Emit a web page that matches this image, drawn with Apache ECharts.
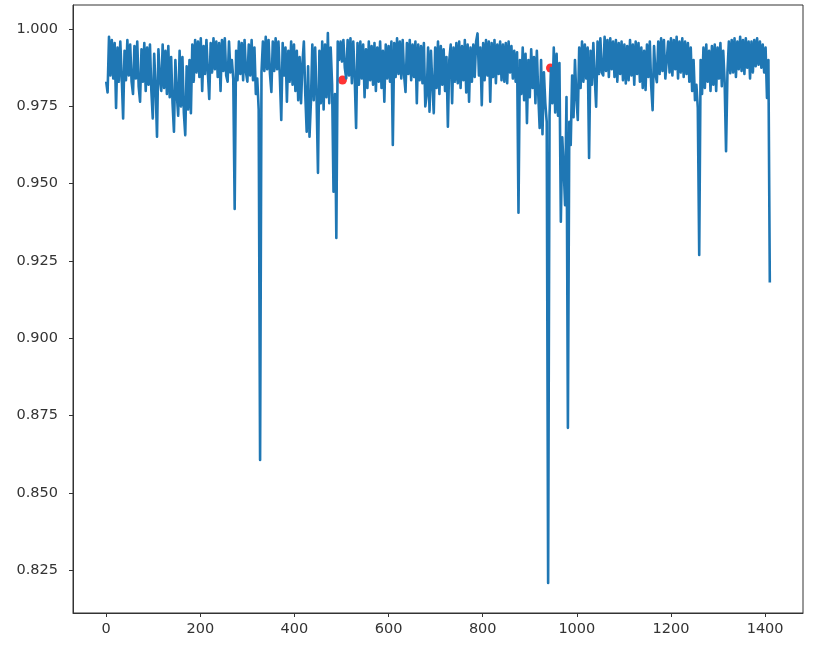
<!DOCTYPE html>
<html>
<head>
<meta charset="utf-8">
<script src="https://cdn.jsdelivr.net/npm/echarts@6/dist/echarts.min.js"></script>
<style>
html,body{margin:0;padding:0;background:#fff;}
#chart{width:830px;height:658px;}
</style>
</head>
<body>
<div id="chart"></div>
<script>
// sample spacing of the series along the x index
const STEP = 3;
// series values, x = 0, 3, 6, ... 1410
const seriesValues = [
0.9830,0.9795,0.9975,0.9850,0.9965,0.9840,0.9955,0.9745,0.9940,0.9830,
0.9960,0.9845,0.9711,0.9930,0.9835,0.9965,0.9850,0.9950,0.9830,0.9790,
0.9945,0.9840,0.9960,0.9815,0.9765,0.9935,0.9830,0.9955,0.9800,0.9940,
0.9820,0.9950,0.9800,0.9711,0.9920,0.9810,0.9652,0.9935,0.9840,0.9800,
0.9950,0.9810,0.9930,0.9790,0.9945,0.9780,0.9910,0.9760,0.9668,0.9900,
0.9790,0.9720,0.9930,0.9750,0.9910,0.9730,0.9657,0.9880,0.9740,0.9900,
0.9728,0.9950,0.9830,0.9965,0.9860,0.9960,0.9845,0.9970,0.9800,0.9945,
0.9855,0.9965,0.9860,0.9774,0.9955,0.9860,0.9970,0.9870,0.9960,0.9845,
0.9955,0.9800,0.9965,0.9865,0.9970,0.9850,0.9830,0.9960,0.9860,0.9900,
0.9840,0.9418,0.9930,0.9835,0.9960,0.9855,0.9955,0.9835,0.9965,0.9860,
0.9830,0.9950,0.9850,0.9965,0.9835,0.9940,0.9790,0.9840,0.9740,0.8606,
0.9860,0.9960,0.9865,0.9975,0.9870,0.9965,0.9855,0.9797,0.9960,0.9865,
0.9970,0.9870,0.9960,0.9845,0.9706,0.9955,0.9850,0.9940,0.9765,0.9930,
0.9830,0.9960,0.9820,0.9950,0.9800,0.9930,0.9770,0.9910,0.9760,0.9890,
0.9960,0.9790,0.9668,0.9880,0.9652,0.9765,0.9950,0.9770,0.9940,0.9780,
0.9535,0.9930,0.9760,0.9960,0.9740,0.9950,0.9780,0.9987,0.9760,0.9940,
0.9820,0.9474,0.9790,0.9324,0.9960,0.9900,0.9960,0.9895,0.9965,0.9875,
0.9840,0.9965,0.9850,0.9970,0.9825,0.9960,0.9845,0.9680,0.9955,0.9820,
0.9960,0.9840,0.9950,0.9780,0.9935,0.9810,0.9960,0.9835,0.9945,0.9820,
0.9955,0.9800,0.9940,0.9830,0.9960,0.9810,0.9930,0.9765,0.9950,0.9840,
0.9945,0.9830,0.9960,0.9625,0.9955,0.9845,0.9970,0.9855,0.9960,0.9840,
0.9965,0.9850,0.9797,0.9955,0.9855,0.9965,0.9835,0.9950,0.9845,0.9960,
0.9760,0.9950,0.9835,0.9945,0.9825,0.9955,0.9750,0.9787,0.9940,0.9733,
0.9930,0.9820,0.9728,0.9940,0.9810,0.9960,0.9790,0.9945,0.9820,0.9935,
0.9800,0.9910,0.9684,0.9900,0.9950,0.9760,0.9940,0.9830,0.9955,0.9825,
0.9960,0.9810,0.9945,0.9835,0.9965,0.9795,0.9950,0.9765,0.9940,0.9830,
0.9950,0.9845,0.9960,0.9986,0.9850,0.9940,0.9754,0.9955,0.9835,0.9965,
0.9850,0.9960,0.9765,0.9955,0.9845,0.9965,0.9825,0.9950,0.9855,0.9960,
0.9835,0.9950,0.9830,0.9955,0.9825,0.9960,0.9860,0.9945,0.9840,0.9930,
0.9830,0.9925,0.9406,0.9900,0.9790,0.9940,0.9770,0.9920,0.9696,0.9900,
0.9780,0.9935,0.9810,0.9910,0.9760,0.9930,0.9790,0.9680,0.9900,0.9660,
0.9860,0.9760,0.9700,0.8208,0.9720,0.9874,0.9760,0.9940,0.9730,0.9920,
0.9720,0.9890,0.9377,0.9650,0.9550,0.9430,0.9780,0.8710,0.9700,0.9625,
0.9850,0.9715,0.9900,0.9780,0.9706,0.9940,0.9810,0.9960,0.9830,0.9950,
0.9840,0.9940,0.9583,0.9930,0.9820,0.9955,0.9845,0.9749,0.9960,0.9855,
0.9970,0.9860,0.9850,0.9975,0.9865,0.9965,0.9845,0.9970,0.9870,0.9960,
0.9845,0.9965,0.9830,0.9955,0.9855,0.9960,0.9835,0.9950,0.9824,0.9945,
0.9835,0.9965,0.9850,0.9950,0.9820,0.9960,0.9855,0.9955,0.9830,0.9940,
0.9810,0.9930,0.9803,0.9950,0.9845,0.9960,0.9815,0.9738,0.9945,0.9855,
0.9828,0.9960,0.9855,0.9970,0.9865,0.9965,0.9840,0.9845,0.9960,0.9860,
0.9970,0.9850,0.9965,0.9870,0.9975,0.9840,0.9960,0.9860,0.9970,0.9845,
0.9960,0.9855,0.9955,0.9830,0.9940,0.9800,0.9900,0.9770,0.9820,0.9745,
0.9269,0.9900,0.9790,0.9940,0.9810,0.9950,0.9830,0.9930,0.9800,0.9945,
0.9820,0.9950,0.9800,0.9940,0.9840,0.9955,0.9815,0.9930,0.9830,0.9605,
0.9860,0.9960,0.9857,0.9965,0.9860,0.9970,0.9845,0.9960,0.9870,0.9975,
0.9865,0.9965,0.9855,0.9970,0.9875,0.9960,0.9840,0.9960,0.9860,0.9965,
0.9880,0.9970,0.9885,0.9960,0.9875,0.9950,0.9860,0.9940,0.9777,0.9900,
0.9180
];
// highlighted points (red markers)
const markX = [502, 944];
const markY = [0.9835, 0.9874];
// tick labels
const xTicks = [0, 200, 400, 600, 800, 1000, 1200, 1400];
const yTicks = [0.825, 0.850, 0.875, 0.900, 0.925, 0.950, 0.975, 1.000];

const lineData = seriesValues.map((v, i) => [i * STEP, v]);
const markData = markX.map((x, i) => [x, markY[i]]);

const textStyle = { color: '#333', fontSize: 14.5, fontFamily: 'DejaVu Sans' };
const chart = echarts.init(document.getElementById('chart'), null, { renderer: 'canvas' });
chart.setOption({
  animation: false,
  backgroundColor: '#fff',
  grid: { left: 73, right: 27, top: 5, bottom: 45, show: true, borderColor: '#333', borderWidth: 1 },
  xAxis: {
    type: 'value', min: -70.5, max: 1480.5,
    splitLine: { show: false },
    axisLine: { show: true, onZero: false, lineStyle: { color: '#333', width: 1 } },
    axisTick: { show: true, length: 4, customValues: xTicks, lineStyle: { color: '#333' } },
    axisLabel: Object.assign({ customValues: xTicks, margin: 9, formatter: v => String(v) }, textStyle)
  },
  yAxis: {
    type: 'value', min: 0.8111, max: 1.0078,
    splitLine: { show: false },
    axisLine: { show: true, onZero: false, lineStyle: { color: '#333', width: 1 } },
    axisTick: { show: true, length: 4, customValues: yTicks, lineStyle: { color: '#333' } },
    axisLabel: Object.assign({ customValues: yTicks, margin: 15, formatter: v => v.toFixed(3) }, textStyle)
  },
  series: [
    {
      type: 'scatter', data: markData, z: 1, symbolSize: 9,
      itemStyle: { color: '#ff0000' }, silent: true
    },
    {
      type: 'line', data: lineData, z: 2, showSymbol: false, symbol: 'none',
      sampling: null, silent: true,
      lineStyle: { color: '#1f77b4', width: 2.6, join: 'round' }
    }
  ]
});
</script>
</body>
</html>
